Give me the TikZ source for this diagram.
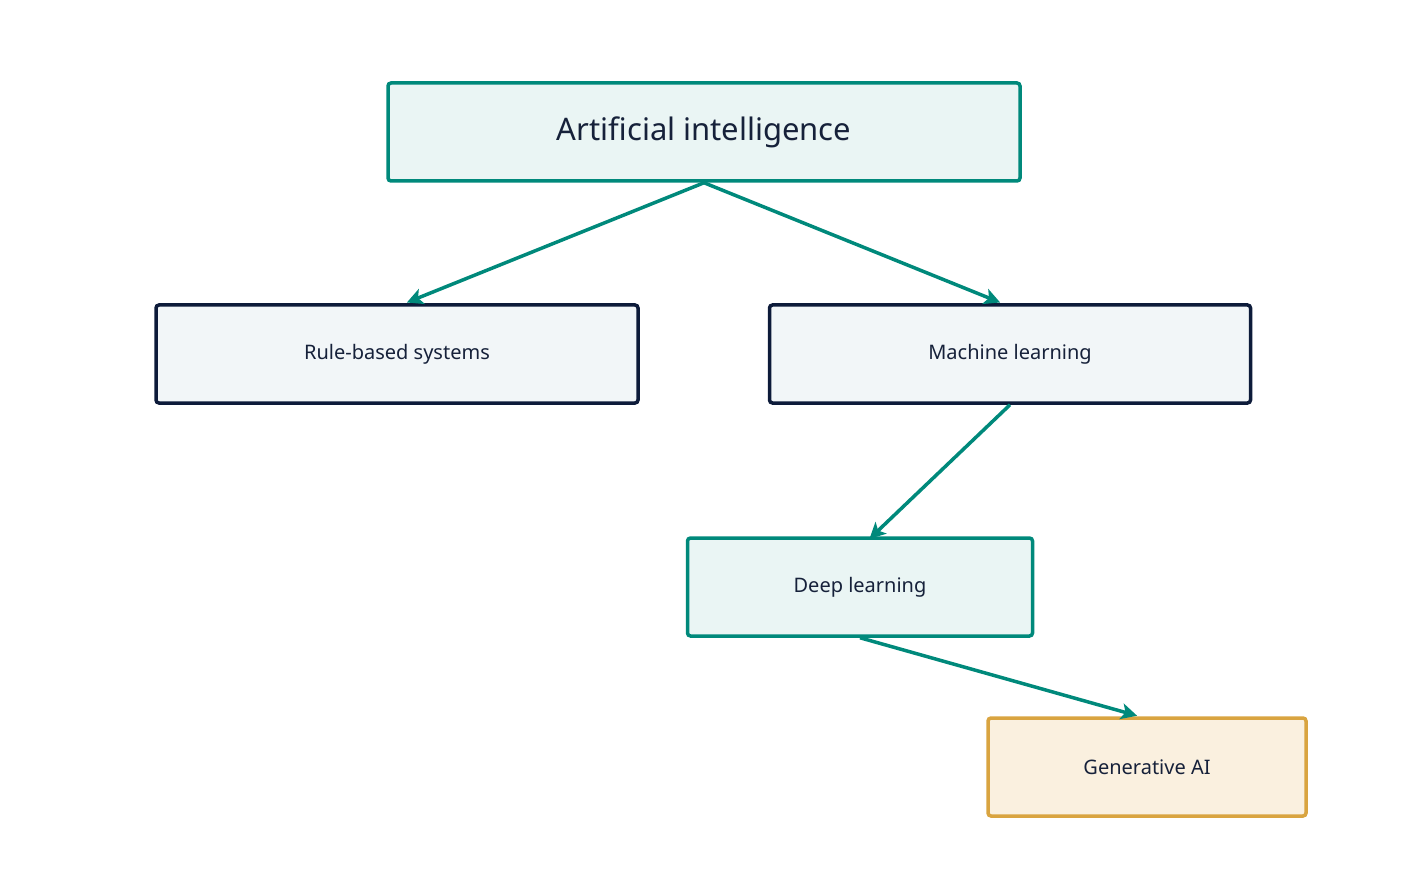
\documentclass[tikz,border=0pt]{standalone}
\usepackage{fontspec}
\setmainfont{Noto Sans}
\usetikzlibrary{arrows.meta}
\definecolor{teal}{RGB}{0,137,123}
\definecolor{navy}{RGB}{13,27,58}
\definecolor{txt}{RGB}{22,33,58}
\definecolor{tealfill}{RGB}{234,245,244}
\definecolor{greyfill}{RGB}{242,246,248}
\definecolor{gold}{RGB}{217,164,64}
\definecolor{goldfill}{RGB}{250,240,223}
\begin{document}
\begin{tikzpicture}[x=1pt,y=-1pt,
 box/.style={draw, line width=3.5pt, rounded corners=3pt, minimum height=98pt, inner sep=0pt, text=txt, font=\bfseries\fontsize{20}{24}\selectfont},
 arr/.style={draw=teal, line width=3.5pt, -{Stealth[length=16pt,width=16pt,inset=4pt]}, shorten >=2pt}]
\useasboundingbox (0,0) rectangle (1407,890);
\node[box, draw=teal, fill=tealfill, minimum width=632pt, font=\bfseries\fontsize{31}{36}\selectfont] (ai) at (704,132) {Artificial intelligence};
\node[box, draw=navy, fill=greyfill, minimum width=482pt] (rule) at (397,354) {Rule-based systems};
\node[box, draw=navy, fill=greyfill, minimum width=481pt] (ml) at (1010,354) {Machine learning};
\node[box, draw=teal, fill=tealfill, minimum width=345pt] (dl) at (860,587) {Deep learning};
\node[box, draw=gold, fill=goldfill, minimum width=318pt] (gen) at (1147,767) {Generative AI};
\draw[arr] (ai.south) -- ([xshift=8pt]rule.north);
\draw[arr] (ai.south) -- ([xshift=-8pt]ml.north);
\draw[arr] (ml.south) -- ([xshift=8pt,yshift=-4pt]dl.north);
\draw[arr] (dl.south) -- ([xshift=-8pt]gen.north);
\end{tikzpicture}
\end{document}
